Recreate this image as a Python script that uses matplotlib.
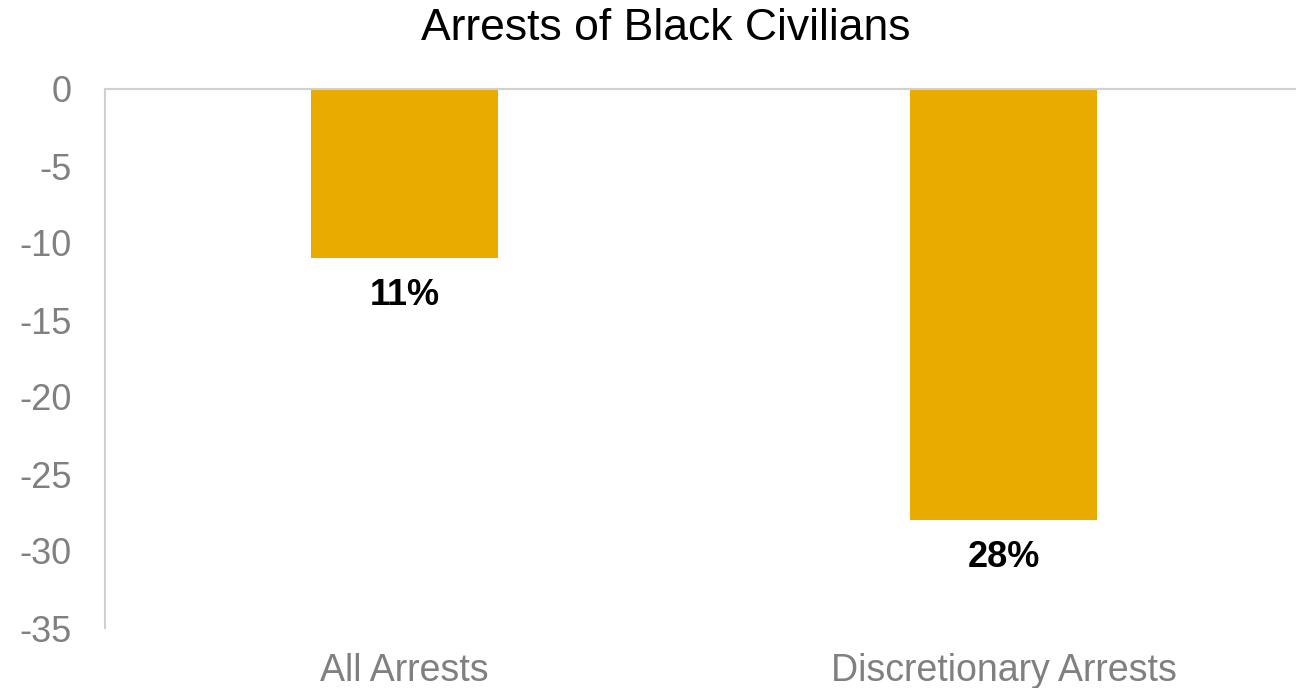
import matplotlib
matplotlib.use('Agg')
import matplotlib.pyplot as plt

plt.rcParams['font.family'] = ['Liberation Sans', 'DejaVu Sans']

# Chart data
categories = ['All Arrests', 'Discretionary Arrests']
values = [-11, -28]
labels = ['11%', '28%']
yticks = [0, -5, -10, -15, -20, -25, -30, -35]

W, H = 1296, 688
fig = plt.figure(figsize=(W / 100, H / 100), dpi=100)
ax = fig.add_axes([105 / W, (H - 628) / H, (1303 - 105) / W, (628 - 89) / H])

x = range(len(categories))
bars = ax.bar(x, values, width=0.312, color='#EAAB00', zorder=2)

ax.set_xlim(-0.5, 1.5)
ax.set_ylim(-35, 0)
ax.set_yticks(yticks)
ax.set_yticklabels([str(t) for t in yticks])
ax.set_xticks(list(x))
ax.set_xticklabels(categories)

for s in ['right', 'bottom']:
    ax.spines[s].set_visible(False)
ax.spines['top'].set_color('#D0D0D0')
ax.spines['top'].set_linewidth(1.5)
ax.spines['left'].set_color('#D0D0D0')
ax.spines['left'].set_linewidth(1.5)

ax.tick_params(axis='y', length=0, pad=24, labelsize=26, labelcolor='#808080')
ax.tick_params(axis='x', length=0, pad=18, labelsize=27, labelcolor='#808080')

for b, lab in zip(bars, labels):
    ax.annotate(lab, (b.get_x() + b.get_width() / 2, b.get_height()),
                xytext=(0, -14), textcoords='offset points',
                ha='center', va='top', fontsize=26, fontweight='bold', color='black')

fig.text(666 / W, 1 - 29 / H, 'Arrests of Black Civilians', ha='center', va='center',
         fontsize=32, color='black')

fig.savefig('out.png', dpi=100)
